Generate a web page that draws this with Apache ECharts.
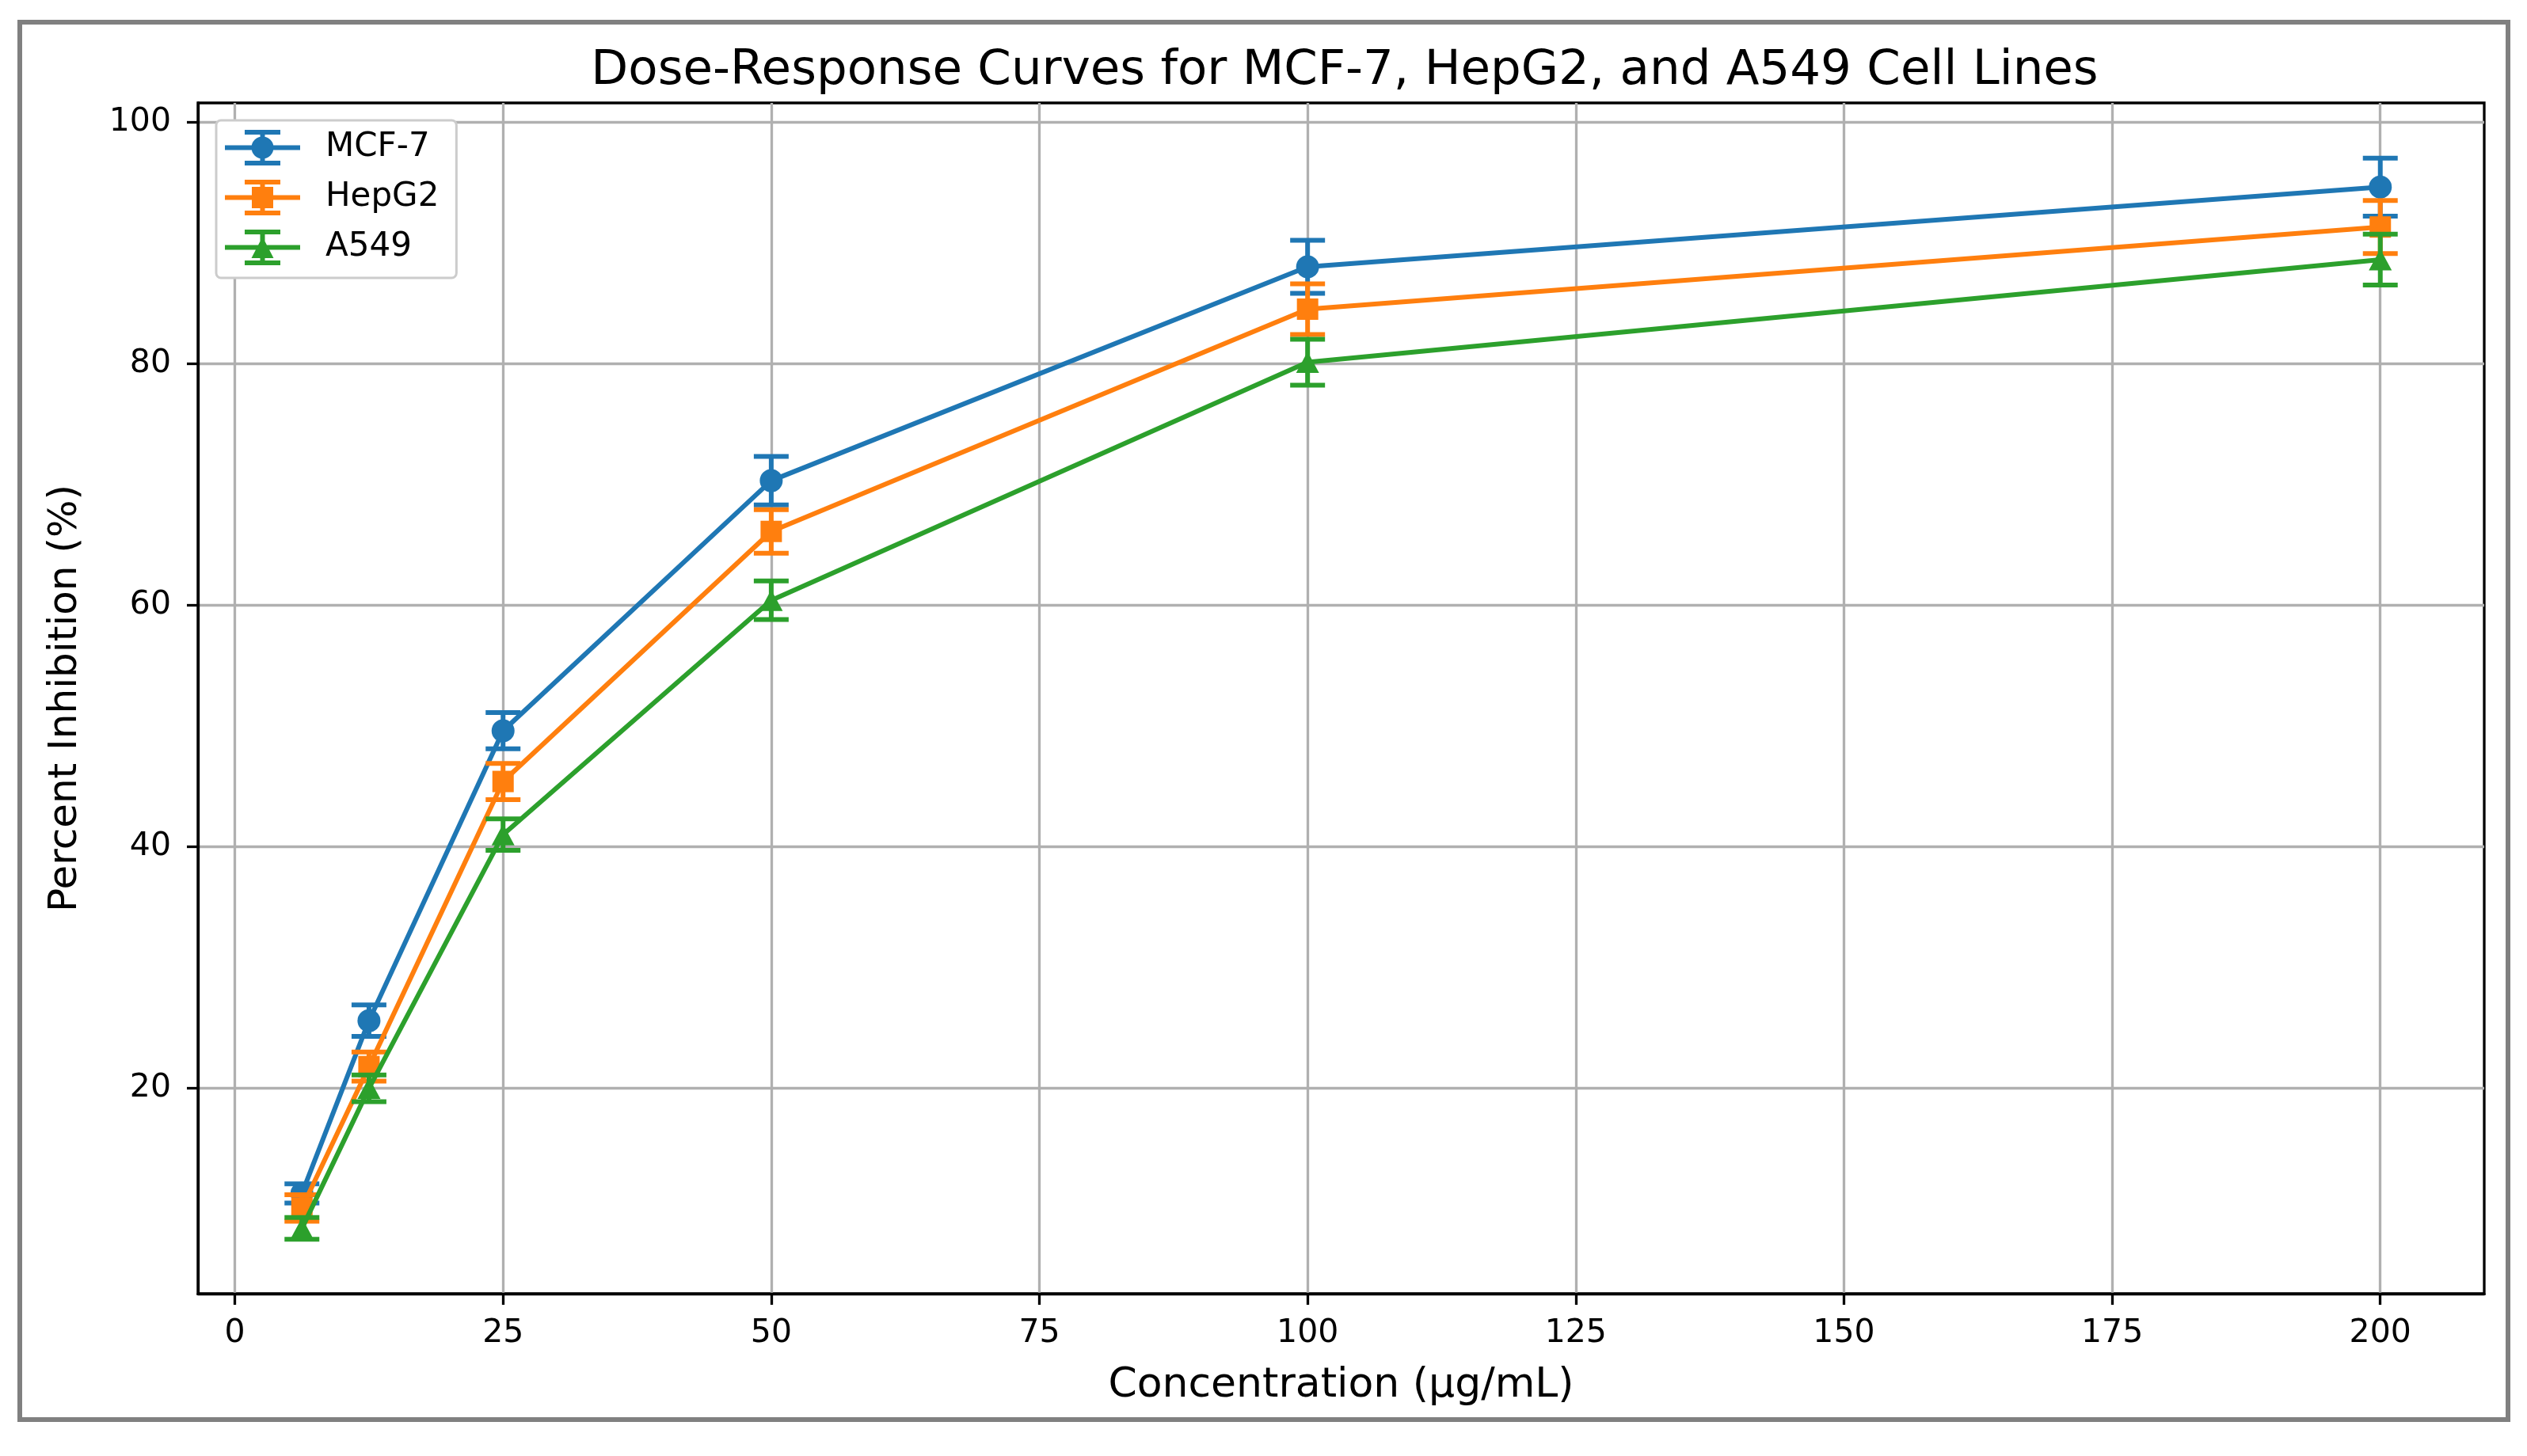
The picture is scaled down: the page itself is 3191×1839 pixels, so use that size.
<!DOCTYPE html>
<html>
<head>
<meta charset="utf-8">
<title>Dose-Response Curves</title>
<script src="https://cdn.jsdelivr.net/npm/echarts@6/dist/echarts.min.js"></script>
<style>
  html, body { margin: 0; padding: 0; background: #fff; }
  #chart { width: 3191px; height: 1839px; }
</style>
</head>
<body>
<div id="chart"></div>
<script>
// concentrations (µg/mL)
var concentrations = [6.25, 12.5, 25, 50, 100, 200];

// mean percent inhibition
var mcf7Mean  = [11.3, 25.6, 49.6, 70.3, 88.0, 94.6];
var hepg2Mean = [10.1, 21.8, 45.4, 66.1, 84.5, 91.3];
var a549Mean  = [8.4, 20.0, 41.0, 60.4, 80.1, 88.6];

// error bar half-heights
var mcf7Err  = [0.8, 1.3, 1.5, 2.0, 2.2, 2.4];
var hepg2Err = [1.1, 1.2, 1.5, 1.8, 2.1, 2.2];
var a549Err  = [0.9, 1.1, 1.3, 1.6, 1.9, 2.1];

var seriesNames = ['MCF-7', 'HepG2', 'A549'];
var seriesColors = ['#1f77b4', '#ff7f0e', '#2ca02c'];

var xTicks = [0, 25, 50, 75, 100, 125, 150, 175, 200];
var yTicks = [20, 40, 60, 80, 100];
var X_MIN = -3.44, X_MAX = 209.69;
var Y_MIN = 3.0, Y_MAX = 101.57;

var FONT = 'DejaVu Sans';

// legend handles: line + error bar + marker, drawn in a 95x45 box
var BAR = 'M0 19.5 h95 v6 h-95 Z M44.5 0 h6 v45 h-6 Z M25 0 h45 v6 h-45 Z M25 39 h45 v6 h-45 Z ';
var legendIcons = [
  'path://' + BAR + 'M33.5 22.5 A14 14 0 1 1 61.5 22.5 A14 14 0 1 1 33.5 22.5 Z',
  'path://' + BAR + 'M34 9 h27 v27 h-27 Z',
  'path://' + BAR + 'M47.5 9 L61.5 36 L33.5 36 Z'
];
var markerShapes = ['circle', 'rect', 'triangle'];
var markerSizes = [29, 27, [29, 27]];

function pairs(means) {
  return concentrations.map(function (c, i) { return [c, means[i]]; });
}
function bars(means, errs) {
  return concentrations.map(function (c, i) { return [c, means[i] - errs[i], means[i] + errs[i]]; });
}

function renderError(params, api) {
  var x = api.value(0);
  var lo = api.coord([x, api.value(1)]);
  var hi = api.coord([x, api.value(2)]);
  var half = 22;
  var style = { stroke: api.visual('color'), lineWidth: 6, fill: null };
  return {
    type: 'group',
    children: [
      { type: 'line', shape: { x1: hi[0], y1: hi[1], x2: lo[0], y2: lo[1] }, style: style },
      { type: 'line', shape: { x1: hi[0] - half, y1: hi[1], x2: hi[0] + half, y2: hi[1] }, style: style },
      { type: 'line', shape: { x1: lo[0] - half, y1: lo[1], x2: lo[0] + half, y2: lo[1] }, style: style }
    ]
  };
}

var means = [mcf7Mean, hepg2Mean, a549Mean];
var errs = [mcf7Err, hepg2Err, a549Err];
var series = [];
seriesNames.forEach(function (name, k) {
  series.push({
    name: name,
    type: 'line',
    data: pairs(means[k]),
    symbol: markerShapes[k],
    symbolSize: markerSizes[k],
    showAllSymbol: true,
    color: seriesColors[k],
    lineStyle: { width: 6, color: seriesColors[k] },
    itemStyle: { color: seriesColors[k], borderWidth: 0 },
    z: 3 + k * 2,
    animation: false
  });
  series.push({
    name: name,
    type: 'custom',
    data: bars(means[k], errs[k]),
    renderItem: renderError,
    color: seriesColors[k],
    encode: { x: 0, y: [1, 2] },
    z: 2 + k * 2,
    animation: false
  });
});

var chart = echarts.init(document.getElementById('chart'));
chart.setOption({
  backgroundColor: '#fff',
  animation: false,
  title: {
    text: 'Dose-Response Curves for MCF-7, HepG2, and A549 Cell Lines',
    left: 1693,
    top: 55,
    textAlign: 'center',
    textStyle: { fontFamily: FONT, fontSize: 61, fontWeight: 'normal', color: '#000' }
  },
  graphic: [{
    type: 'rect',
    shape: { x: 25, y: 28, width: 3142, height: 1765 },
    style: { fill: null, stroke: '#808080', lineWidth: 6 },
    silent: true
  }],
  legend: {
    left: 273,
    top: 152,
    orient: 'vertical',
    itemWidth: 95,
    itemHeight: 45,
    itemGap: 18,
    padding: [12, 22, 16, 11],
    backgroundColor: '#fff',
    borderColor: '#cccccc',
    borderWidth: 3,
    borderRadius: 6,
    itemStyle: { borderWidth: 0 },
    textStyle: { fontFamily: FONT, fontSize: 42, color: '#000', padding: [0, 0, 0, 27] },
    data: seriesNames.map(function (n, k) { return { name: n, icon: legendIcons[k] }; })
  },
  grid: {
    left: 250, right: 54, top: 130, bottom: 205,
    show: true, borderColor: '#000', borderWidth: 3.3, backgroundColor: 'transparent'
  },
  xAxis: {
    type: 'value',
    min: X_MIN,
    max: X_MAX,
    name: 'Concentration (μg/mL)',
    nameLocation: 'middle',
    nameGap: 90,
    nameTextStyle: { fontFamily: FONT, fontSize: 52, color: '#000' },
    axisLine: { show: true, onZero: false, lineStyle: { color: '#000', width: 3.3 } },
    axisTick: { show: true, customValues: xTicks, length: 14, lineStyle: { color: '#000', width: 3.3 } },
    axisLabel: { customValues: xTicks, fontFamily: FONT, fontSize: 41, color: '#000', margin: 30 },
    splitLine: { show: true, lineStyle: { color: '#b0b0b0', width: 3.3 } }
  },
  yAxis: {
    type: 'value',
    min: Y_MIN,
    max: Y_MAX,
    name: 'Percent Inhibition (%)',
    nameLocation: 'middle',
    nameGap: 142,
    nameTextStyle: { fontFamily: FONT, fontSize: 50, color: '#000' },
    axisLine: { show: true, onZero: false, lineStyle: { color: '#000', width: 3.3 } },
    axisTick: { show: true, customValues: yTicks, length: 14, lineStyle: { color: '#000', width: 3.3 } },
    axisLabel: { customValues: yTicks, fontFamily: FONT, fontSize: 41, color: '#000', margin: 34 },
    splitLine: { show: true, lineStyle: { color: '#b0b0b0', width: 3.3 } }
  },
  series: series
});
</script>
</body>
</html>
